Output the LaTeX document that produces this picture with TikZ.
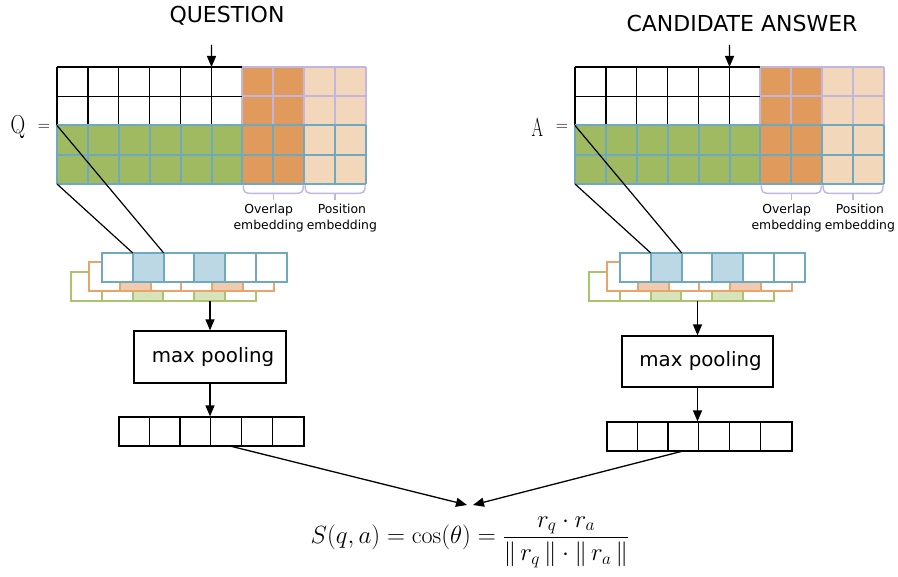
\documentclass[tikz,border=0pt]{standalone}
\usepackage{fontspec}
\setsansfont{DejaVu Sans}
\usetikzlibrary{arrows.meta,calc}
\definecolor{cgreen}{HTML}{A0BA62}
\definecolor{corange}{HTML}{E09A5C}
\definecolor{cpeach}{HTML}{F2D7BA}
\definecolor{cblue}{HTML}{6EA9C0}
\definecolor{clav}{HTML}{C3B6DE}
\definecolor{lblue}{HTML}{BCD8E4}
\definecolor{lorange}{HTML}{F2CBAE}
\definecolor{lgreen}{HTML}{D6E3BB}
\definecolor{corline}{HTML}{E8A56B}
\definecolor{cgrline}{HTML}{A9C46C}
\tikzset{
  arr/.style={-{Triangle[length=11pt,width=9pt]}, line width=1.3pt},
  thinline/.style={line width=1.2pt},
  titlefont/.style={font=\sffamily\fontsize{22}{26}\selectfont},
  lblfont/.style={font=\sffamily\fontsize{12.4}{15.5}\selectfont, align=center},
  poolbox/.style={draw, line width=1.2pt, minimum width=152pt, minimum height=52pt, inner sep=0pt, font=\sffamily\fontsize{19.8}{23}\selectfont},
  outrow/.style={draw, line width=1.2pt, minimum width=185pt, minimum height=29pt, inner sep=0pt},
  braceline/.style={clav, line width=1.4pt},
  gridblue/.style={cblue, line width=2pt},
  gridlav/.style={clav, line width=2pt},
  gridblack/.style={black, line width=1.2pt},
  symfont/.style={font=\fontsize{26}{26}\selectfont},
}
% embedding matrix: #1 x, #2 y (top-left), #3 name prefix
\newcommand\embmatrix[3]{%
\begin{scope}[shift={(#1,#2)}, x=30.9pt, y=-29.25pt]
  \fill[cgreen] (0,2) rectangle (6,4);
  \fill[corange] (6,0) rectangle (8,4);
  \fill[cpeach] (8,0) rectangle (10,4);
  \foreach \c in {6,...,10} \draw[gridlav] (\c,0) -- (\c,2);
  \foreach \r in {0,1} \draw[gridlav] (6,\r) -- (10,\r);
  \foreach \c in {0,...,5} \draw[gridblack] (\c,0) -- (\c,2);
  \foreach \r in {0,1} \draw[gridblack] (0,\r) -- (6,\r);
  \foreach \c in {0,...,10} \draw[gridblue] (\c,2) -- (\c,4);
  \foreach \r in {2,3,4} \draw[gridblue] (0,\r) -- (10,\r);
  \draw[braceline] (6.03,4.05) .. controls (6.03,4.3) and (6.1,4.32) .. (6.3,4.32) -- (7.7,4.32) .. controls (7.9,4.32) and (7.97,4.3) .. (7.97,4.05);
  \draw[braceline] (7,4.32) -- (7,4.55);
  \draw[braceline] (8.03,4.05) .. controls (8.03,4.3) and (8.1,4.32) .. (8.3,4.32) -- (9.7,4.32) .. controls (9.9,4.32) and (9.97,4.3) .. (9.97,4.05);
  \draw[braceline] (9,4.32) -- (9,4.55);
  \node[lblfont] (#3ovl) at (6.85,5.17) {Overlap\\embedding};
  \node[lblfont] (#3pos) at (9.22,5.17) {Position\\embedding};
  \coordinate (#3tl) at (0,2);
  \coordinate (#3bl) at (0,4);
  \coordinate (#3top) at (5,0);
\end{scope}}
% conv row: #1 x, #2 y, #3 line colour, #4 fill colour, #5 shaded cells
\newcommand\convrow[5]{%
  \fill[white] (#1,#2) rectangle ++(185,29);
  \foreach \s in {#5} {\fill[#4] ({#1+(\s-1)*30.83},#2) rectangle ++(30.83,29);}
  \foreach \i in {1,...,5} {\draw[#3, line width=2pt] ({#1+\i*30.83},#2) -- ++(0,29);}
  \draw[#3, line width=2pt] (#1,#2) rectangle ++(185,29);
}
\newcommand\rowdividers[1]{%
  \foreach \i in {1,...,5} {\draw[line width=1.2pt] ($(#1.north west)+(\i*30.83,0)$) -- ($(#1.south west)+(\i*30.83,0)$);}
}
\begin{document}
\begin{tikzpicture}[x=1pt, y=-1pt]
\useasboundingbox (0,0) rectangle (898,577);

% titles
\node[titlefont] (tq) at (227,16) {QUESTION};
\node[titlefont] (ta) at (742,23.5) {CANDIDATE ANSWER};

% matrices
\embmatrix{57}{67}{q}
\embmatrix{575}{67}{a}

\node[symfont] (qsym) at (18,127) {\scalebox{0.78}[1]{Q}};
\node[font=\fontsize{17}{17}\selectfont] (qeq) at (44,127) {=};
\node[symfont] (asym) at (537.5,127) {\scalebox{0.64}[1]{A}};
\node[font=\fontsize{17}{17}\selectfont] (aeq) at (562,127) {=};

\coordinate (qin) at (211.5,45);
\coordinate (ain) at (729.5,45);
\draw[arr] (qin) -- (qtop);
\draw[arr] (ain) -- (atop);

% conv stacks
\convrow{71}{272}{cgrline}{lgreen}{3,5}
\convrow{89}{262.5}{corline}{lorange}{2,5}
\convrow{102}{253}{cblue}{lblue}{2,4}
\coordinate (qc2l) at (132.8,253);
\coordinate (qc2r) at (163.7,253);

\convrow{589}{272}{cgrline}{lgreen}{3,5}
\convrow{607}{262.5}{corline}{lorange}{2,5}
\convrow{620}{253}{cblue}{lblue}{2,4}
\coordinate (ac2l) at (650.8,253);
\coordinate (ac2r) at (681.7,253);

\draw[thinline] (qtl) -- (qc2r);
\draw[thinline] (qbl) -- (qc2l);
\draw[thinline] (atl) -- (ac2r);
\draw[thinline] (abl) -- (ac2l);

% pooling
\node[poolbox] (mpq) at (210,357) {\hspace{6pt}max pooling};
\node[poolbox, minimum width=151pt, minimum height=51pt] (mpa) at (697.5,361.5) {\hspace{6pt}max pooling};
\coordinate (qconv) at (210,301);
\coordinate (aconv) at (697.5,301);
\draw[arr] (qconv) -- (mpq.north);
\draw[arr] (aconv) -- (mpa.north);

% outputs
\node[outrow] (qout) at (211.5,431.5) {};
\node[outrow] (aout) at (699.5,436.5) {};
\rowdividers{qout}
\rowdividers{aout}
\draw[arr] (mpq.south) -- (mpq.south |- qout.north);
\draw[arr] (mpa.south) -- (mpa.south |- aout.north);

% similarity
\node (sim) at (470,542) {\fontsize{24}{28}\selectfont$\displaystyle S(q,a)=\cos(\theta)=\frac{r_q\cdot r_a}{\Vert\, r_q\,\Vert\cdot\Vert\, r_a\,\Vert}$};
\coordinate (qfrom) at (230,446);
\coordinate (afrom) at (683,451);
\coordinate (tipq) at (467,505);
\coordinate (tipa) at (473,505);
\draw[arr] (qfrom) -- (tipq);
\draw[arr] (afrom) -- (tipa);
\end{tikzpicture}
\end{document}
